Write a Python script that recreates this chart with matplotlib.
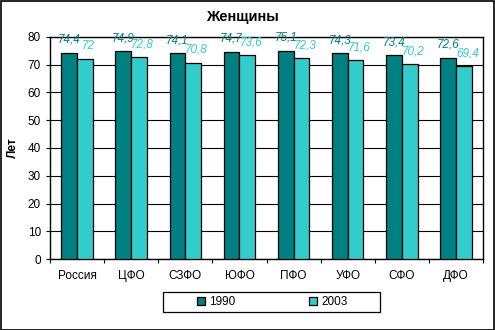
import matplotlib
matplotlib.use("Agg")
import matplotlib.pyplot as plt
import numpy as np

regions = ["Россия", "ЦФО", "СЗФО", "ЮФО", "ПФО", "УФО", "СФО", "ДФО"]
vals_1990 = [74.4, 74.9, 74.1, 74.7, 75.1, 74.3, 73.4, 72.6]
vals_2003 = [72.0, 72.8, 70.8, 73.6, 72.3, 71.6, 70.2, 69.4]
labels_1990 = ["74,4", "74,9", "74,1", "74,7", "75,1", "74,3", "73,4", "72,6"]
labels_2003 = ["72", "72,8", "70,8", "73,6", "72,3", "71,6", "70,2", "69,4"]

C1 = "#008080"
C2 = "#33CCCC"

plt.rcParams["font.family"] = ["Liberation Sans", "DejaVu Sans"]

W, H = 495, 330
fig = plt.figure(figsize=(W / 100, H / 100), dpi=100)
ax = fig.add_axes([50 / W, 1 - 259 / H, (483 - 50) / W, (259 - 37) / H])

x = np.arange(len(regions))
bw = 0.29
ax.bar(x - bw / 2, vals_1990, bw, color=C1, edgecolor="black", linewidth=0.9,
       label="1990", zorder=3)
ax.bar(x + bw / 2, vals_2003, bw, color=C2, edgecolor="black", linewidth=0.9,
       label="2003", zorder=3)

# value labels, 2003 ones nudged right like in the original
for i in range(len(regions)):
    ax.annotate(labels_1990[i], (x[i] - bw / 2, vals_1990[i]), xytext=(0, 7),
                textcoords="offset points", color=C1, style="italic",
                fontsize=8.5, ha="center", va="baseline", zorder=4)
    ax.annotate(labels_2003[i], (x[i] + bw / 2, vals_2003[i]), xytext=(2.5, 7),
                textcoords="offset points", color=C2, style="italic",
                fontsize=8.5, ha="center", va="baseline", zorder=4)

ax.set_xlim(-0.5, len(regions) - 0.5)
ax.set_ylim(0, 80)
ax.set_yticks(range(0, 81, 10))
ax.yaxis.grid(True, color="black", linewidth=0.8, zorder=0)
ax.set_axisbelow(True)
ax.set_xticks(x)
ax.set_xticklabels(regions)
ax.set_xticks(np.arange(-0.5, len(regions), 1.0), minor=True)
ax.tick_params(labelsize=8.5, length=3, direction="out", width=0.8)
ax.tick_params(axis="x", which="major", length=0, pad=8)
ax.tick_params(axis="x", which="minor", length=3, width=0.8)
for s in ax.spines.values():
    s.set_linewidth(1.0)
ax.set_ylabel("Лет", fontsize=8.5, fontweight="bold", labelpad=6)

fig.text(242 / W, 1 - 17 / H, "Женщины", ha="center", va="center",
         fontsize=10.5, fontweight="bold")

leg = ax.legend(loc="center", bbox_to_anchor=(272 / W, 1 - 302 / H),
                bbox_transform=fig.transFigure, ncol=2, fontsize=8.5,
                frameon=False, handlelength=0.7, handleheight=0.7,
                columnspacing=6.3, handletextpad=0.3)

legend_frame = plt.Rectangle((163 / W, 1 - 312 / H), (380 - 163) / W, 20 / H,
                             transform=fig.transFigure, fill=False,
                             edgecolor="black", linewidth=0.9)
fig.patches.append(legend_frame)

border = plt.Rectangle((0.5 / W, 0.5 / H), 1 - 1.5 / W, 1 - 1.5 / H,
                       transform=fig.transFigure, fill=False,
                       edgecolor="black", linewidth=1.2)
fig.patches.append(border)

fig.savefig("out.png", dpi=100)
